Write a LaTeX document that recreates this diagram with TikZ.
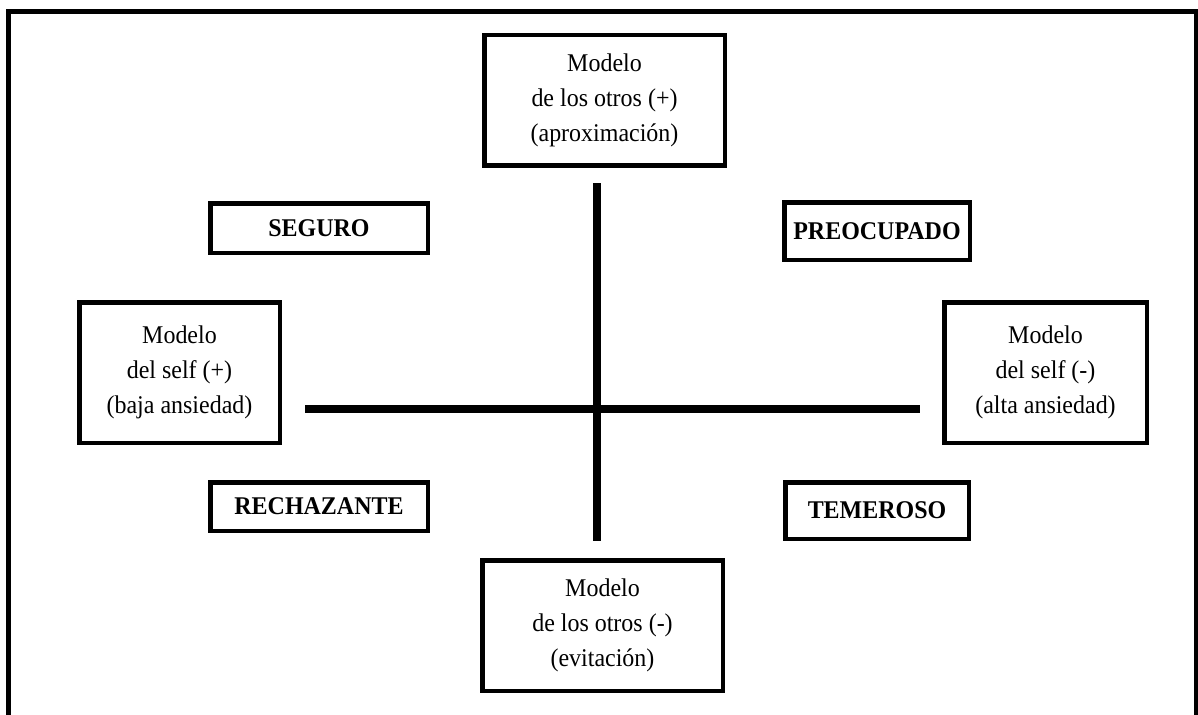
\documentclass[tikz,border=0pt]{standalone}
\usepackage{fontspec}
\setmainfont{Liberation Serif}[FakeStretch=0.94]
\begin{document}
\begin{tikzpicture}[x=1pt,y=-1pt,
  model/.style={draw,line width=4.5pt,inner sep=0pt,align=center,
    font=\fontsize{25.5}{35}\selectfont},
  label/.style={draw,line width=4.5pt,inner sep=0pt,align=center,
    font=\fontsize{25.5}{30}\selectfont\bfseries},
  axis/.style={line width=7.5pt},
  frame/.style={line width=4.5pt}]
\useasboundingbox (0,0) rectangle (1198,714);
\fill[white] (0,0) rectangle (1198,714);
% outer frame (bottom edge outside the picture)
\draw[frame] (8.5,720) -- (8.5,11.5) -- (1196.5,11.5) -- (1196.5,720);
% model boxes
\node[model,minimum width=240.5pt,minimum height=130.5pt] (top) at (604.5,100.5)
  {Modelo\\de los otros (+)\\(aproximación)};
\node[model,minimum width=240.5pt,minimum height=130.5pt] (bottom) at (602.5,625.5)
  {Modelo\\de los otros (-)\\(evitación)};
\node[model,minimum width=200.5pt,minimum height=140.5pt] (left) at (179.5,372.5)
  {Modelo\\del self (+)\\(baja ansiedad)};
\node[model,minimum width=202.5pt,minimum height=140.5pt] (right) at (1045.5,372.5)
  {Modelo\\del self (-)\\(alta ansiedad)};
% style labels
\node[label,minimum width=217.5pt,minimum height=49.5pt] (seguro) at (319,228) {SEGURO};
\node[label,minimum width=185.5pt,minimum height=57.5pt] (preo) at (877,231) {PREOCUPADO};
\node[label,minimum width=217.5pt,minimum height=48.5pt] (rech) at (319,506.5) {RECHAZANTE};
\node[label,minimum width=183.5pt,minimum height=56.5pt] (teme) at (877,510.5) {TEMEROSO};
% axes
\coordinate (vtop) at (597,183);
\coordinate (vbot) at (597,541);
\coordinate (hleft) at (305,409);
\coordinate (hright) at (920,409);
\draw[axis] (vtop) -- (vbot);
\draw[axis] (hleft) -- (hright);
\end{tikzpicture}
\end{document}
